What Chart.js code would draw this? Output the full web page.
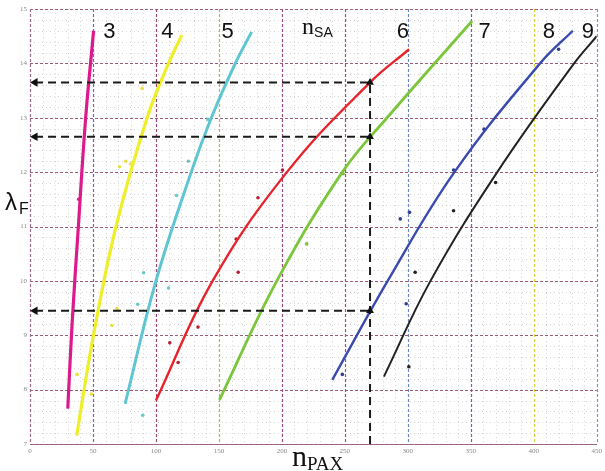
<!DOCTYPE html>
<html><head><meta charset="utf-8">
<script src="https://cdn.jsdelivr.net/npm/chart.js@4.4.1/dist/chart.umd.min.js"></script>
<style>html,body{margin:0;padding:0;background:#fff;overflow:hidden}#wrap{width:605px;height:471px;position:relative}</style>
</head><body><div id="wrap"><canvas id="c" width="605" height="471"></canvas></div>
<script>
// ---- data ----
const xTicks = [0, 50, 100, 150, 200, 250, 300, 350, 400, 450];
const yTicks = [7, 8, 9, 10, 11, 12, 13, 14, 15];
const curveNames = ['3', '4', '5', '6', '7', '8', '9'];

const curve3X = [30, 33.4, 38.4, 44.2, 50.5];
const curve3Y = [7.65, 9.2, 11, 13, 14.6];
const curve4X = [37, 50.4, 68.3, 93, 110, 120.5];
const curve4Y = [7.15, 9, 11, 13, 14, 14.52];
const curve5X = [75.5, 100, 128, 144, 163, 176];
const curve5Y = [7.74, 10, 12, 13, 14, 14.58];
const curve6X = [100, 145, 204, 270, 301];
const curve6Y = [7.8, 10, 12, 13.65, 14.26];
const curve7X = [150.4, 196, 248, 283.5, 351];
const curve7Y = [7.81, 10, 12, 13, 14.78];
const curve8X = [240, 284, 337, 405, 431];
const curve8Y = [8.18, 10, 12, 14, 14.6];
const curve9X = [281, 318, 371, 432, 450];
const curve9Y = [8.24, 10, 12, 14, 14.5];

const dots3X = [38.7];            const dots3Y = [11.5];
const dots4X = [65, 69, 37.4, 48.7, 71, 76, 80, 89];
const dots4Y = [9.18, 9.49, 8.28, 7.92, 12.1, 12.2, 12.15, 13.54];
const dots5X = [90.2, 110, 85.5, 89.5, 116.3, 125.8, 141.3];
const dots5Y = [10.15, 9.87, 9.57, 7.53, 11.57, 12.2, 12.97];
const dots6X = [111, 117.6, 133.4, 165.3, 163.7, 181, 200.5];
const dots6Y = [8.86, 8.5, 9.15, 10.16, 10.77, 11.53, 12.04];
const dots7X = [219.7, 248.7];    const dots7Y = [10.68, 11.97];
const dots8X = [248, 298.7, 294, 301.3, 336.3, 360.5, 419.7];
const dots8Y = [8.28, 9.58, 11.14, 11.26, 12.04, 12.79, 14.26];
const dots9X = [300.8, 305.8, 336.3, 369.7];
const dots9Y = [8.42, 10.16, 11.29, 11.81];

const readX = 270;                       // n_PAX read-off value
const readY = [13.65, 12.65, 9.45];      // lambda_F read-off values
const arrowStartX = 4;

const labelX = [63, 109, 157, 296, 361, 412, 443];
const labelY = [14.58, 14.58, 14.58, 14.58, 14.58, 14.58, 14.58];
const nsaX = 216, nsaY = 14.65;

// ---- styles ----
const curveColors = ['#dc1a8c', '#eeee2a', '#5ec6d2', '#e8232b', '#7cc63c', '#3a4aae', '#222222'];
const dotColors   = ['#c0207a', '#e6e040', '#6cc8c8', '#b8203a', '#80c040', '#303c8c', '#222222'];
const curveWidths = [3.2, 3.2, 3, 2.4, 2.8, 2.4, 2];

const curvesX = [curve3X, curve4X, curve5X, curve6X, curve7X, curve8X, curve9X];
const curvesY = [curve3Y, curve4Y, curve5Y, curve6Y, curve7Y, curve8Y, curve9Y];
const dotsX = [dots3X, dots4X, dots5X, dots6X, dots7X, dots8X, dots9X];
const dotsY = [dots3Y, dots4Y, dots5Y, dots6Y, dots7Y, dots8Y, dots9Y];
const zip = (xs, ys) => xs.map((x, i) => ({x: x, y: ys[i]}));

const datasets = [];
readY.forEach(v => {
  datasets.push({
    type: 'line', data: [{x: arrowStartX, y: v}, {x: readX, y: v}],
    borderColor: '#1a1a1a', borderWidth: 2, borderDash: [8, 5],
    pointStyle: 'triangle', pointRotation: [270, 0], pointRadius: [5, 4.5],
    pointBackgroundColor: '#111', pointBorderColor: '#111', pointBorderWidth: 0,
    tension: 0, fill: false
  });
});
datasets.push({
  type: 'line', data: [{x: readX, y: 7}, {x: readX, y: readY[0]}],
  borderColor: '#1a1a1a', borderWidth: 2, borderDash: [8, 5], pointRadius: 0, tension: 0, fill: false
});
curveNames.forEach((n, i) => {
  datasets.push({
    type: 'line', label: n, data: zip(curvesX[i], curvesY[i]),
    borderColor: curveColors[i], borderWidth: curveWidths[i], pointRadius: 0,
    tension: 0.4, fill: false
  });
});
curveNames.forEach((n, i) => {
  datasets.push({
    type: 'scatter', data: zip(dotsX[i], dotsY[i]),
    pointRadius: 1.8, pointBackgroundColor: dotColors[i], pointBorderWidth: 0, showLine: false
  });
});

const majorXColors = {50:'#8a5c9c',100:'#9a4a70',150:'#b4b450',200:'#9a4a80',250:'#a45060',300:'#6a88b8',350:'#7460a4',400:'#d6d640',450:'#7894c4'};

const gridPlugin = {
  id: 'grid',
  beforeDatasetsDraw(chart) {
    const ctx = chart.ctx, a = chart.chartArea, xs = chart.scales.x, ys = chart.scales.y;
    ctx.save();
    ctx.strokeStyle = 'rgba(175,175,175,0.5)'; ctx.lineWidth = 1; ctx.setLineDash([1, 3]);
    for (let v = 10; v < 450; v += 10) {
      if (v % 50 === 0) continue;
      const p = Math.round(xs.getPixelForValue(v)) + 0.5;
      ctx.beginPath(); ctx.moveTo(p, a.top); ctx.lineTo(p, a.bottom); ctx.stroke();
    }
    for (let k = 1; k < 40; k++) {
      if (k % 5 === 0) continue;
      const p = Math.round(ys.getPixelForValue(7 + k * 0.2)) + 0.5;
      ctx.beginPath(); ctx.moveTo(a.left, p); ctx.lineTo(a.right, p); ctx.stroke();
    }
    ctx.setLineDash([3, 2]); ctx.lineWidth = 1.2;
    xTicks.forEach(v => {
      if (v === 0) return;
      const p = Math.round(xs.getPixelForValue(v)) + 0.5;
      ctx.strokeStyle = majorXColors[v] || '#8a5c9c';
      ctx.beginPath(); ctx.moveTo(p, a.top); ctx.lineTo(p, a.bottom); ctx.stroke();
    });
    ctx.strokeStyle = '#9c5c7c';
    yTicks.forEach(v => {
      const p = Math.round(ys.getPixelForValue(v)) + 0.5;
      ctx.beginPath(); ctx.moveTo(a.left, p); ctx.lineTo(a.right, p); ctx.stroke();
    });
    ctx.strokeStyle = '#9c6c8c';
    ctx.beginPath(); ctx.moveTo(a.left + 0.5, a.top); ctx.lineTo(a.left + 0.5, a.bottom); ctx.stroke();
    ctx.restore();
  }
};

const textPlugin = {
  id: 'texts',
  afterDraw(chart) {
    const ctx = chart.ctx, xs = chart.scales.x, ys = chart.scales.y;
    ctx.save();
    ctx.fillStyle = '#111';
    ctx.textBaseline = 'middle'; ctx.textAlign = 'center';
    ctx.font = '22px "Liberation Sans", Arial, sans-serif';
    curveNames.forEach((n, i) => {
      ctx.fillText(n, xs.getPixelForValue(labelX[i]), ys.getPixelForValue(labelY[i]));
    });
    ctx.textAlign = 'left'; ctx.textBaseline = 'alphabetic';
    let px = xs.getPixelForValue(nsaX), py = ys.getPixelForValue(nsaY) + 6;
    ctx.font = '24px "Liberation Serif", "Times New Roman", serif';
    ctx.fillText('n', px, py);
    px += ctx.measureText('n').width;
    ctx.font = '14px "Liberation Sans", Arial, sans-serif';
    ctx.fillText('SA', px, py + 3);
    ctx.font = '24px "Liberation Sans", Arial, sans-serif';
    ctx.fillText('\u03BB', 5, 210);
    ctx.font = '16px "Liberation Sans", Arial, sans-serif';
    ctx.fillText('F', 19, 214);
    ctx.font = '30px "Liberation Serif", "Times New Roman", serif';
    ctx.fillText('n', 292, 466);
    const w = ctx.measureText('n').width;
    ctx.font = '19px "Liberation Serif", "Times New Roman", serif';
    ctx.fillText('PAX', 292 + w, 470);
    ctx.restore();
  }
};

new Chart(document.getElementById('c'), {
  type: 'line',
  data: {datasets: datasets},
  options: {
    responsive: false, animation: false, devicePixelRatio: 1,
    layout: {padding: {top: 9, right: 5, left: 0, bottom: 0}},
    plugins: {legend: {display: false}, tooltip: {enabled: false}},
    scales: {
      x: {
        type: 'linear', min: 0, max: 450,
        afterBuildTicks: s => { s.ticks = xTicks.map(v => ({value: v})); },
        afterFit: s => { s.height = 27; },
        grid: {display: false, drawTicks: false},
        border: {display: true, color: '#a07090', width: 1},
        ticks: {font: {size: 7, family: '"Liberation Serif", serif'}, color: '#888', padding: 3, maxRotation: 0}
      },
      y: {
        type: 'linear', min: 7, max: 15,
        afterBuildTicks: s => { s.ticks = yTicks.map(v => ({value: v})); },
        afterFit: s => { s.width = 30; },
        grid: {display: false, drawTicks: false},
        border: {display: false},
        ticks: {font: {size: 7, family: '"Liberation Serif", serif'}, color: '#888', padding: 3}
      }
    }
  },
  plugins: [gridPlugin, textPlugin]
});
</script>
</body></html>
